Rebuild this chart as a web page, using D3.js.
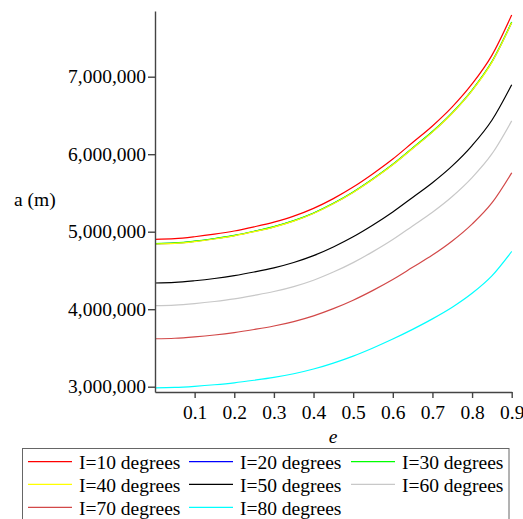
<!DOCTYPE html>
<html>
<head>
<meta charset="utf-8">
<script src="https://cdn.jsdelivr.net/npm/d3@7"></script>
<style>
  html, body { margin: 0; padding: 0; background: #fff; }
  svg { display: block; }
</style>
</head>
<body>
<svg id="chart" width="523" height="519"></svg>
<script>
// Eccentricity samples
const ecc = [0, 0.05, 0.1, 0.15, 0.2, 0.25, 0.3, 0.35, 0.4, 0.45, 0.5, 0.55, 0.6, 0.65, 0.7, 0.75, 0.8, 0.85, 0.9];

// Semi-major axis (m) for each inclination
const aI10 = [4902000, 4910000, 4935000, 4968000, 5009000, 5063000, 5124000, 5201000, 5301000, 5427000, 5576000, 5748000, 5937000, 6150000, 6364000, 6610000, 6906000, 7275000, 7795000];
const aI20 = [4844000, 4852000, 4876000, 4909000, 4950000, 5003000, 5063000, 5139000, 5238000, 5363000, 5510000, 5680000, 5867000, 6077000, 6289000, 6532000, 6824000, 7189000, 7700000];
const aI30 = [4847000, 4855000, 4879000, 4912000, 4953000, 5006000, 5066000, 5143000, 5242000, 5367000, 5513000, 5683000, 5870000, 6081000, 6292000, 6536000, 6828000, 7194000, 7705000];
const aI40 = [4841000, 4849000, 4873000, 4906000, 4947000, 5000000, 5060000, 5136000, 5235000, 5360000, 5506000, 5676000, 5863000, 6073000, 6285000, 6528000, 6820000, 7185000, 7695000];
const aI50 = [4338000, 4345000, 4367000, 4396000, 4433000, 4480000, 4534000, 4603000, 4691000, 4803000, 4934000, 5086000, 5254000, 5442000, 5632000, 5849000, 6111000, 6438000, 6896000];
const aI60 = [4045000, 4052000, 4072000, 4099000, 4133000, 4178000, 4228000, 4292000, 4374000, 4479000, 4601000, 4743000, 4899000, 5075000, 5251000, 5454000, 5698000, 6003000, 6430000];
const aI70 = [3619000, 3625000, 3643000, 3667000, 3698000, 3738000, 3783000, 3840000, 3914000, 4007000, 4116000, 4243000, 4383000, 4540000, 4698000, 4880000, 5098000, 5371000, 5760000];
const aI80 = [2985000, 2990000, 3005000, 3025000, 3050000, 3083000, 3120000, 3167000, 3228000, 3305000, 3395000, 3500000, 3615000, 3740000, 3875000, 4025000, 4205000, 4430000, 4745000];

const seriesNames = ["I=10 degrees", "I=20 degrees", "I=30 degrees", "I=40 degrees",
                     "I=50 degrees", "I=60 degrees", "I=70 degrees", "I=80 degrees"];
const seriesValues = [aI10, aI20, aI30, aI40, aI50, aI60, aI70, aI80];
const seriesColors = ["#ff0000", "#0000ff", "#00ff00", "#ffff00", "#000000", "#c8c8c8", "#d24848", "#00ffff"];

const xTicks = [0.1, 0.2, 0.3, 0.4, 0.5, 0.6, 0.7, 0.8, 0.9];
const yTicks = [3000000, 4000000, 5000000, 6000000, 7000000];

const svg = d3.select("#chart");
const SERIF = "Liberation Serif";
const FONT = "19.5px";

// Apply the serif face both as attribute and inline style
function serif(sel) {
  return sel.attr("font-family", SERIF).style("font-family", SERIF)
            .attr("font-size", 19.5).style("font-size", FONT);
}

const x = d3.scaleLinear().domain([0, 0.9]).range([155, 511.7]);
const y = d3.scaleLinear().domain([2931600, 7847700]).range([392, 11]);

// Curves
const line = d3.line().x((d, i) => x(ecc[i])).y(d => y(d)).curve(d3.curveMonotoneX);
const curves = svg.append("g");
seriesValues.forEach((vals, k) => {
  curves.append("path")
    .attr("d", line(vals))
    .attr("fill", "none")
    .attr("stroke", seriesColors[k])
    .attr("stroke-width", 1.2)
    .attr("stroke-linejoin", "round");
});

// Axes
const xAxis = svg.append("g")
  .attr("transform", "translate(0,392)")
  .call(d3.axisBottom(x).tickValues(xTicks).tickFormat(d3.format(".1f"))
        .tickSize(6).tickSizeOuter(0).tickPadding(7));
const yAxis = svg.append("g")
  .attr("transform", "translate(155,0)")
  .call(d3.axisLeft(y).tickValues(yTicks).tickFormat(d3.format(","))
        .tickSize(7).tickSizeOuter(0).tickPadding(2));

[xAxis, yAxis].forEach(g => {
  serif(g);
  g.select(".domain").attr("stroke", "#444").attr("stroke-width", 1.4);
  g.selectAll(".tick line").attr("stroke", "#444").attr("stroke-width", 1.4);
  serif(g.selectAll(".tick text")).attr("fill", "#000");
});

// Axis titles
serif(svg.append("text")).attr("x", 333).attr("y", 443).attr("text-anchor", "middle")
  .style("font-style", "italic").text("e");
serif(svg.append("text")).attr("x", 14).attr("y", 206).text("a (m)");

// Legend
const legend = svg.append("g");
legend.append("rect")
  .attr("x", 22.5).attr("y", 448.5).attr("width", 486.5).attr("height", 80)
  .attr("fill", "#fff").attr("stroke", "#666").attr("stroke-width", 1);

const colX = [28, 189, 351];
const rowY = [461.7, 484.3, 507.3];
seriesNames.forEach((name, k) => {
  const cx = colX[k % 3], cy = rowY[Math.floor(k / 3)];
  legend.append("line")
    .attr("x1", cx).attr("x2", cx + 44).attr("y1", cy).attr("y2", cy)
    .attr("stroke", seriesColors[k]).attr("stroke-width", 1.2);
  serif(legend.append("text"))
    .attr("x", cx + 51).attr("y", cy + 7.3)
    .text(name);
});
</script>
</body>
</html>
